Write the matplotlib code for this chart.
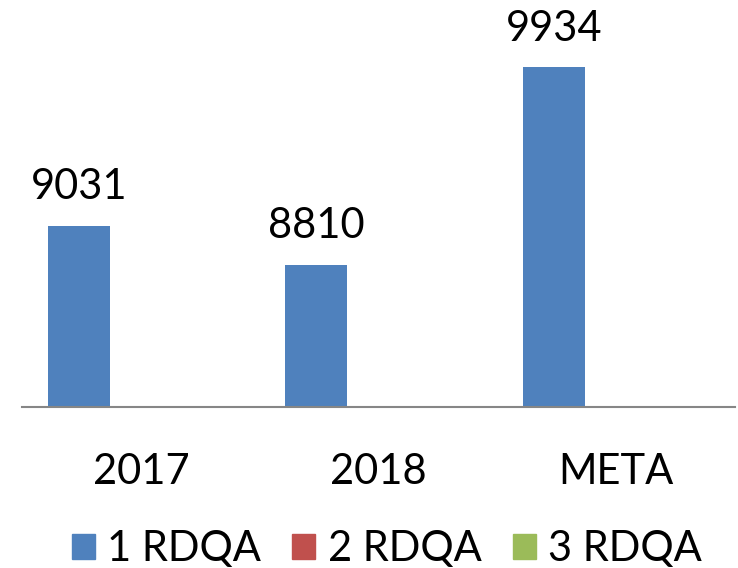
import matplotlib.pyplot as plt
import matplotlib.patches as mpl_patches

categories = ["2017", "2018", "META"]
series_names = ["1 RDQA", "2 RDQA", "3 RDQA"]
rdqa1 = [9031, 8810, 9934]
rdqa2 = [0, 0, 0]
rdqa3 = [0, 0, 0]
colors = ["#4F81BD", "#C0504D", "#9BBB59"]

plt.rcParams['font.family'] = ['Lato', 'DejaVu Sans']
fs = 30

fig = plt.figure(figsize=(7.38, 5.68), dpi=100)
ax = fig.add_axes([22 / 738, 161 / 568, 713 / 738, 407 / 568])

width = 0.261
x = list(range(len(categories)))
for si, values in enumerate([rdqa1, rdqa2, rdqa3]):
    offs = (si - 1) * width
    bars = ax.bar([xi + offs for xi in x], values, width=width, color=colors[si])
    if si == 0:
        for b, v in zip(bars, values):
            ax.annotate(str(v), (b.get_x() + b.get_width() / 2, v),
                        xytext=(0, 14), textcoords="offset points",
                        ha="center", va="bottom", fontsize=fs)

ax.set_xlim(-0.5, 2.5)
ax.set_ylim(8000, 10315)
ax.set_xticks(x)
ax.set_xticklabels(categories, fontsize=fs)
ax.tick_params(axis="x", length=0, pad=33)
ax.set_yticks([])
for side in ["top", "right", "left"]:
    ax.spines[side].set_visible(False)
ax.spines["bottom"].set_color("#868686")
ax.spines["bottom"].set_linewidth(1.5)

patches = [mpl_patches.Patch(color=colors[i], label=series_names[i]) for i in range(3)]
fig.legend(handles=patches, loc="center", bbox_to_anchor=(0.524, 1 - 549 / 568),
           ncol=3, frameon=False, fontsize=fs, handlelength=0.55, handleheight=0.55,
           handletextpad=0.3, columnspacing=0.75, borderpad=0)

fig.savefig("out.png", dpi=100)
